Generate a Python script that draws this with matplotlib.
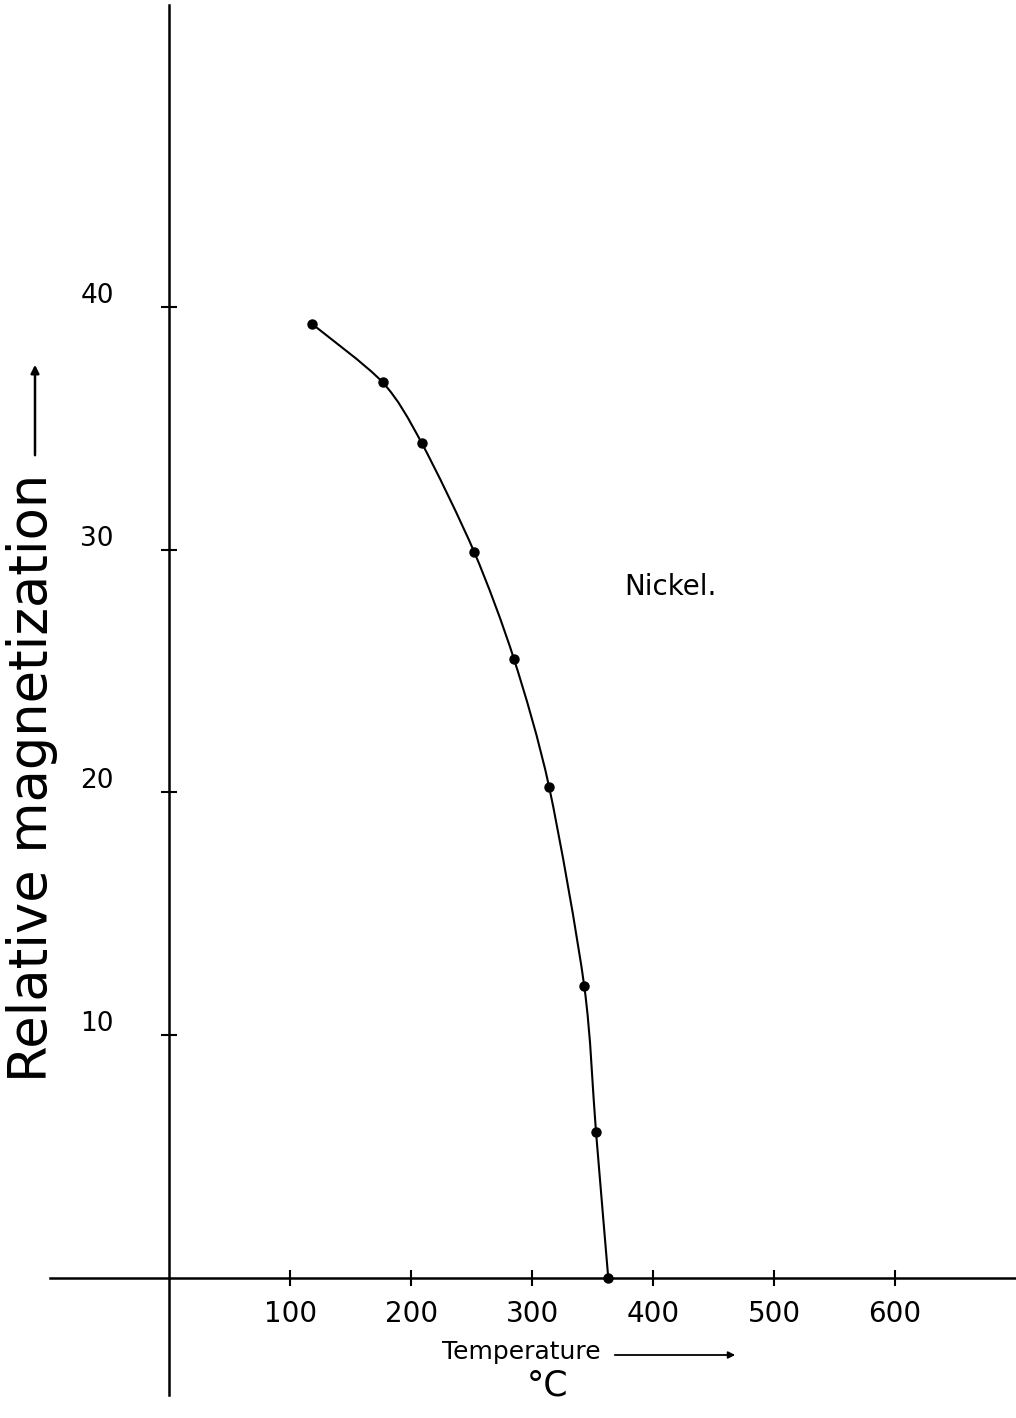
import matplotlib
matplotlib.use("Agg")
import matplotlib.pyplot as plt
from matplotlib.path import Path
from matplotlib.patches import PathPatch

# readings (nickel)
temperature = [118.1, 176.3, 208.6, 252.1, 284.9, 314.1, 343.1, 352.8, 362.9]
magnetization = [39.3, 36.9, 34.4, 29.9, 25.5, 20.2, 12.0, 6.0, 0.0]

x_ticks = [100, 200, 300, 400, 500, 600]
y_ticks = [10, 20, 30, 40]

W, H = 1016, 1418
fig = plt.figure(figsize=(W / 100, H / 100), dpi=100)
ax = fig.add_axes([0, 0, 1, 1])
ax.set_xlim(-140.2, 700.2)
ax.set_ylim(-5.79, 52.66)

# axes drawn as crossing lines through the origin
for side in ["top", "right"]:
    ax.spines[side].set_visible(False)
ax.spines["left"].set_position(("data", 0))
ax.spines["bottom"].set_position(("data", 0))
ax.spines["left"].set_bounds(-4.84, 52.45)
ax.spines["bottom"].set_bounds(-98.8, 700.2)
for side in ["left", "bottom"]:
    ax.spines[side].set_linewidth(1.8)

ax.set_xticks(x_ticks)
ax.set_yticks(y_ticks)
ax.set_xticklabels([])
ax.set_yticklabels([])
ax.tick_params(direction="inout", length=11, width=1.5)

for t in x_ticks:
    ax.text(t, -1.5, str(t), ha="center", va="center", fontsize=20)
for v in y_ticks:
    ax.text(-60, v + 0.45, str(v), ha="center", va="center", fontsize=19)

# smooth hand-drawn style curve through the points (Bezier segments)
pts = list(zip(temperature, magnetization))
verts = [pts[0]]
codes = [Path.MOVETO]
for i in range(len(pts) - 1):
    p0 = pts[max(i - 1, 0)]
    p1 = pts[i]
    p2 = pts[i + 1]
    p3 = pts[min(i + 2, len(pts) - 1)]
    c1 = (p1[0] + (p2[0] - p0[0]) / 7, p1[1] + (p2[1] - p0[1]) / 7)
    c2 = (p2[0] - (p3[0] - p1[0]) / 7, p2[1] - (p3[1] - p1[1]) / 7)
    verts += [c1, c2, p2]
    codes += [Path.CURVE4] * 3
ax.add_patch(PathPatch(Path(verts, codes), fill=False, lw=1.5, color="black"))
ax.plot(temperature, magnetization, "o", color="black", markersize=6.5)

def px(x, y):
    return x / W, 1 - y / H

# axis titles and labels
fig.text(*px(32, 778), "Relative magnetization", rotation=90,
         ha="center", va="center", fontsize=38)
ax.annotate("", xy=px(35, 362), xytext=px(35, 458),
            xycoords="figure fraction", textcoords="figure fraction",
            arrowprops=dict(arrowstyle="-|>", lw=1.8, color="black",
                            mutation_scale=12))

fig.text(*px(521, 1352), "Temperature", ha="center", va="center", fontsize=18)
ax.annotate("", xy=px(738, 1355), xytext=px(612, 1355),
            xycoords="figure fraction", textcoords="figure fraction",
            arrowprops=dict(arrowstyle="-|>", lw=1.3, color="black",
                            mutation_scale=10))
fig.text(*px(548, 1385), "°C", ha="center", va="center", fontsize=25)

fig.text(*px(670, 587), "Nickel.", ha="center", va="center", fontsize=20)

fig.savefig("out.png", dpi=100)
